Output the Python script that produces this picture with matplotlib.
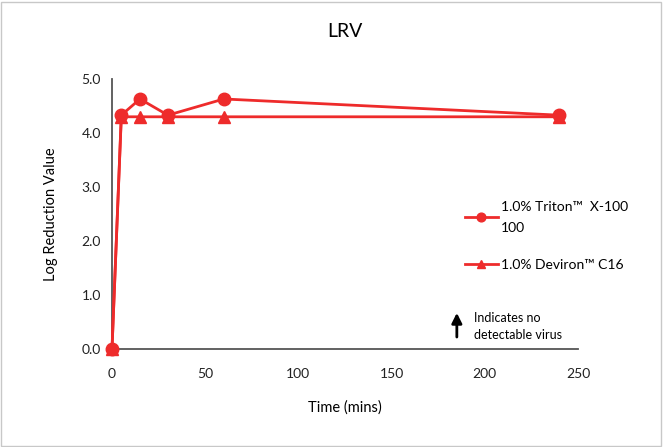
import matplotlib.pyplot as plt
from matplotlib.patches import Rectangle

plt.rcParams['font.family'] = ['Lato', 'DejaVu Sans']

time = [0, 5, 15, 30, 60, 240]
triton = [0, 4.33, 4.63, 4.33, 4.63, 4.33]
deviron = [0, 4.3, 4.3, 4.3, 4.3, 4.3]
labels = ["1.0% Triton\u2122  X-100\n100", "1.0% Deviron\u2122 C16"]
red = '#ee2b2b'

fig = plt.figure(figsize=(6.64, 4.47), dpi=100)
ax = fig.add_axes([112/664, 1-349/447, (578-112)/664, (349-79)/447])

ax.plot(time, triton, color=red, lw=2, marker='o', ms=9, label=labels[0], clip_on=False, zorder=4)
ax.plot(time, deviron, color=red, lw=2, marker='^', ms=8, label=labels[1], clip_on=False, zorder=3)

ax.set_xlim(0, 250)
ax.set_ylim(0, 5)
ax.set_yticks([0, 1, 2, 3, 4, 5])
ax.set_yticklabels([f"{v:.1f}" for v in [0, 1, 2, 3, 4, 5]])
ax.set_xticks([0, 50, 100, 150, 200, 250])
ax.tick_params(length=0, labelsize=10, colors='#222222', pad=8)
ax.tick_params(axis='x', pad=14)
for s in ['top', 'right']:
    ax.spines[s].set_visible(False)
for s in ['left', 'bottom']:
    ax.spines[s].set_color('#555555')
    ax.spines[s].set_linewidth(1.3)

ax.set_title("LRV", fontsize=14, pad=30)
ax.set_xlabel("Time (mins)", fontsize=10.5, labelpad=14)
ax.set_ylabel("Log Reduction Value", fontsize=10.5, labelpad=17)

leg = ax.legend(loc='upper left', bbox_to_anchor=(0.73, 0.595), frameon=False, fontsize=10,
                handlelength=2.4, handletextpad=0.2, labelspacing=1.8, markerscale=0.7)
for t in leg.get_texts():
    t.set_linespacing(1.9)

ax.annotate("", xy=(185, 0.72), xytext=(185, 0.17),
            arrowprops=dict(arrowstyle='-|>', color='black', lw=2, mutation_scale=15))
ax.text(194, 0.42, "Indicates no\ndetectable virus", fontsize=9, va='center', ha='left',
        linespacing=1.5)

fig.patches.append(Rectangle((0.002, 0.002), 0.994, 0.994, transform=fig.transFigure,
                             fill=False, edgecolor='#c8c8c8', lw=1))

fig.savefig("out.png", dpi=100)
